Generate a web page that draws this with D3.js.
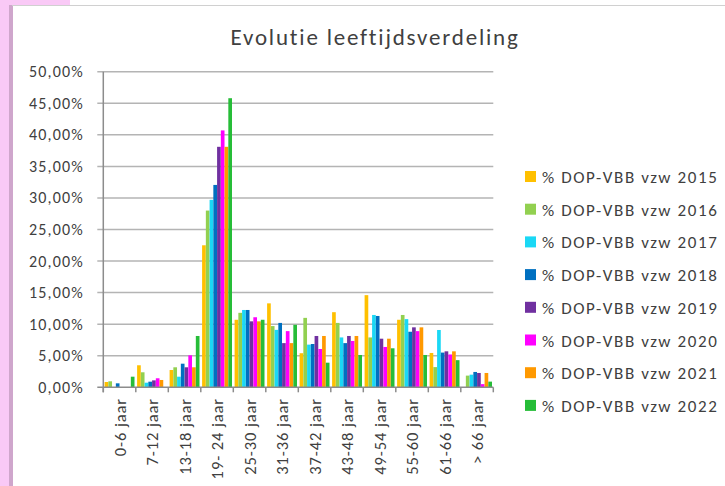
<!DOCTYPE html>
<html>
<head>
<meta charset="utf-8">
<script src="https://cdn.jsdelivr.net/npm/d3@7"></script>
<style>
body{margin:0;background:#fff;}
#container{width:725px;height:486px;}
text{font-family:Calibri,Carlito,Lato,"Open Sans",sans-serif;fill:#404040;}
</style>
</head>
<body>
<div id="container"></div>
<script>
// leeftijdscategorieen
var categories = ["0-6 jaar","7-12 jaar","13-18 jaar","19- 24 jaar","25-30 jaar","31-36 jaar","37-42 jaar","43-48 jaar","49-54 jaar","55-60 jaar","61-66 jaar","> 66 jaar"]
var seriesNames = ["% DOP-VBB vzw 2015","% DOP-VBB vzw 2016","% DOP-VBB vzw 2017","% DOP-VBB vzw 2018","% DOP-VBB vzw 2019","% DOP-VBB vzw 2020","% DOP-VBB vzw 2021","% DOP-VBB vzw 2022"]
var colors = ["#FFC000","#92D050","#1AD8F5","#0070C0","#7030A0","#FF00FF","#FF9900","#26BD38"]

// percentages per jaar (volgorde = categories)
var v2015 = [0.84,3.49,2.74,22.5,10.7,13.3,5.4,11.9,14.6,10.7,5.44,0]
var v2016 = [0.95,2.38,3.17,28.0,11.8,9.7,11.0,10.2,7.9,11.46,3.2,1.85]
var v2017 = [0,0.73,1.68,29.7,12.25,9.1,6.76,7.9,11.46,10.8,9.08,2.0]
var v2018 = [0.63,0.89,3.74,32.06,12.25,10.2,6.86,7.0,11.3,8.8,5.5,2.43]
var v2019 = [0,1.1,3.17,38.1,10.45,7.0,8.13,8.13,7.7,9.5,5.7,2.27]
var v2020 = [0,1.43,5.07,40.7,11.1,8.9,6.07,7.34,6.39,8.9,5.2,0.5]
var v2021 = [0,1.16,3.17,38.1,10.45,7.0,8.13,8.13,7.7,9.5,5.7,2.27]
var v2022 = [1.68,0,8.13,45.8,10.7,9.9,3.9,5.12,6.18,5.12,4.3,0.9]
var allSeries = [v2015,v2016,v2017,v2018,v2019,v2020,v2021,v2022]

var yTicks = [0,5,10,15,20,25,30,35,40,45,50]

var svg = d3.select("#container").append("svg").attr("width",725).attr("height",486)

// achtergrond (roze rand links)
svg.append("rect").attr("x",0).attr("y",0).attr("width",725).attr("height",486).attr("fill","#fff")
svg.append("rect").attr("x",0).attr("y",0).attr("width",70).attr("height",6).attr("fill","#F9C9F6")
svg.append("rect").attr("x",0).attr("y",0).attr("width",9).attr("height",486).attr("fill","#F9C9F6")
svg.append("rect").attr("x",9).attr("y",5).attr("width",4).attr("height",481).attr("fill","#CFA6CC")
svg.append("line").attr("x1",12).attr("x2",725).attr("y1",5.5).attr("y2",5.5).attr("stroke","#D0D0D0")

var pLeft = 103.3, pRight = 493.3, pTop = 71.7, pBottom = 387.3

var x0 = d3.scaleBand().domain(categories).range([pLeft,pRight]).paddingInner(0.08).paddingOuter(0.04)
var x1 = d3.scaleBand().domain(d3.range(8)).range([0,x0.bandwidth()]).paddingInner(0.02)
var y = d3.scaleLinear().domain([0,50]).range([pBottom,pTop])

// rasterlijnen
svg.selectAll(".grid").data(yTicks.slice(1)).enter().append("line")
    .attr("class","grid")
    .attr("x1",pLeft-6).attr("x2",pRight)
    .attr("y1",function(d){return y(d)}).attr("y2",function(d){return y(d)})
    .attr("stroke","#B4B4B4").attr("stroke-width",1.5)

svg.selectAll(".ylab").data(yTicks).enter().append("text")
    .attr("class","ylab")
    .attr("x",84).attr("y",function(d){return y(d)+5.5})
    .attr("text-anchor","end").style("font-size","16px").style("letter-spacing","1.2px")
    .text(function(d){return d.toFixed(2).replace(".",",")+"%"})

// staven
for(var s=0;s<allSeries.length;s++){
    svg.selectAll(".bar"+s).data(allSeries[s]).enter().append("rect")
        .attr("class","bar"+s)
        .attr("x",function(d,i){return x0(categories[i])+x1(s)})
        .attr("y",function(d){return y(d)})
        .attr("width",x1.bandwidth())
        .attr("height",function(d){return pBottom-y(d)})
        .attr("fill",colors[s])
}

// assen
svg.append("line").attr("x1",pLeft).attr("x2",pLeft).attr("y1",pTop).attr("y2",pBottom+5).attr("stroke","#8C8C8C").attr("stroke-width",1.5)
svg.append("line").attr("x1",pLeft-6).attr("x2",pRight).attr("y1",pBottom).attr("y2",pBottom).attr("stroke","#8C8C8C").attr("stroke-width",1.5)
var ticksX = categories.map(function(c){return x0(c)-x0.step()*x0.paddingInner()/2})
ticksX.push(pRight)
svg.selectAll(".xt").data(ticksX).enter().append("line")
    .attr("x1",function(d){return d}).attr("x2",function(d){return d})
    .attr("y1",pBottom).attr("y2",pBottom+5)
    .attr("stroke","#8C8C8C").attr("stroke-width",1.5)

svg.selectAll(".xlab").data(categories).enter().append("text")
    .attr("transform",function(d){return "translate("+(x0(d)+x0.bandwidth()/2+6)+",398) rotate(-90)"})
    .attr("text-anchor","end").style("font-size","16.5px").style("letter-spacing","0.9px")
    .text(function(d){return d})

// titel
svg.append("text").attr("x",375).attr("y",45).attr("text-anchor","middle")
    .style("font-size","23px").style("letter-spacing","1.8px").text("Evolutie leeftijdsverdeling")

// legenda
var leg = svg.selectAll(".leg").data(seriesNames).enter().append("g")
    .attr("transform",function(d,i){return "translate(525,"+(177+i*32.7)+")"})
leg.append("rect").attr("x",0).attr("y",-6).attr("width",11).attr("height",11)
    .attr("fill",function(d,i){return colors[i]})
leg.append("text").attr("x",17).attr("y",6).style("font-size","17px").style("letter-spacing","1.6px").text(function(d){return d})
</script>
</body>
</html>
